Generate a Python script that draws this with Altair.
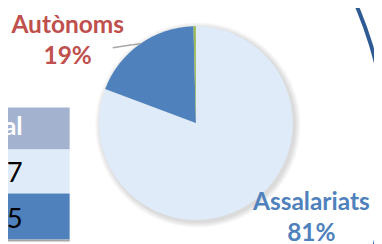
import altair as alt
import pandas as pd

# ---- data ----
categories = ["Assalariats", "Autònoms", "Altres"]
values = [80.7, 18.9, 0.4]
slice_colors = ["#DFEBF8", "#4F81BD", "#9BBB59"]
label_colors = ["#4F81BD", "#C0504D"]
table_header = ["Total"]
table_cells = ["7", "5"]

total = sum(values)
pcts = [f"{round(v / total * 100)}%" for v in values]
pie_df = pd.DataFrame({"cat": categories, "val": values, "idx": list(range(len(values))),
                       "label": [f"{c}\n{p}" for c, p in zip(categories, pcts)]})
one = pd.DataFrame({"k": [0]})

W, H = 374, 236
CX, CY, R = 192, 115, 99
TAU = 6.2832

layers = []

# decorative big ring (top right)
layers.append(alt.Chart(one).mark_arc(theta=0, theta2=TAU, radius=377, radius2=373,
                                       color="#2F5B95").encode(x=alt.value(12), y=alt.value(144)))

# table fragment on the left
rows = [(99, 142, "#A3B2CE"), (142, 187, "#DFEBF8"), (187, 234, "#4F81BD"), (234, 236, "#A6A6A6")]
for y1, y2, col in rows:
    layers.append(alt.Chart(one).mark_rect(color=col).encode(
        x=alt.value(-10), x2=alt.value(63), y=alt.value(y1), y2=alt.value(y2)))

tbl = pd.DataFrame({"t": table_header + table_cells, "r": [0, 1, 2]})
layers.append(alt.Chart(tbl).transform_filter(alt.datum.r == 0).mark_text(
    align="right", baseline="alphabetic", font="Lato", fontWeight="bold", fontSize=26, color="white"
).encode(text="t:N", x=alt.value(15), y=alt.value(127)))
for r, yb in [(1, 175), (2, 222)]:
    layers.append(alt.Chart(tbl).transform_filter(alt.datum.r == r).mark_text(
        align="right", baseline="alphabetic", font="Lato", fontSize=28, color="black"
    ).encode(text="t:N", x=alt.value(15), y=alt.value(yb)))

# soft shadow behind the pie
for i in range(1, 7):
    layers.append(alt.Chart(one).mark_arc(theta=0, theta2=TAU, radius=R + i, color="black",
                                           opacity=0.025).encode(x=alt.value(CX + 2), y=alt.value(CY + 2)))

# pie
layers.append(alt.Chart(pie_df).mark_arc(radius=R).encode(
    theta=alt.Theta("val:Q", stack=True),
    color=alt.Color("cat:N", scale=alt.Scale(domain=categories, range=slice_colors), legend=None),
    order=alt.Order("idx:Q"),
    x=alt.value(CX), y=alt.value(CY),
))

# leader line
layers.append(alt.Chart(one).mark_rule(color="#A6A6A6", strokeWidth=1.5).encode(
    x=alt.value(107), x2=alt.value(127), y=alt.value(38), y2=alt.value(35)))
layers.append(alt.Chart(one).mark_rule(color="#A6A6A6", strokeWidth=1.5).encode(
    x=alt.value(127), x2=alt.value(136), y=alt.value(35), y2=alt.value(34)))

# labels
for cat, col, lx, ly in [("Autònoms", label_colors[1], 61, 23), ("Assalariats", label_colors[0], 310, 204)]:
    layers.append(alt.Chart(pie_df).transform_filter(alt.datum.cat == cat).mark_text(
        align="center", baseline="alphabetic", font="Lato", fontWeight="bold", fontSize=25,
        lineBreak="\n", lineHeight=32, color=col
    ).encode(text="label:N", x=alt.value(lx), y=alt.value(ly)))

chart = alt.layer(*layers).properties(
    width=W, height=H, padding=0, autosize=alt.AutoSizeParams(type="none"), background="white"
).configure_view(stroke=None)

chart.save("out.html", embed_options={"renderer": "svg", "actions": False})
